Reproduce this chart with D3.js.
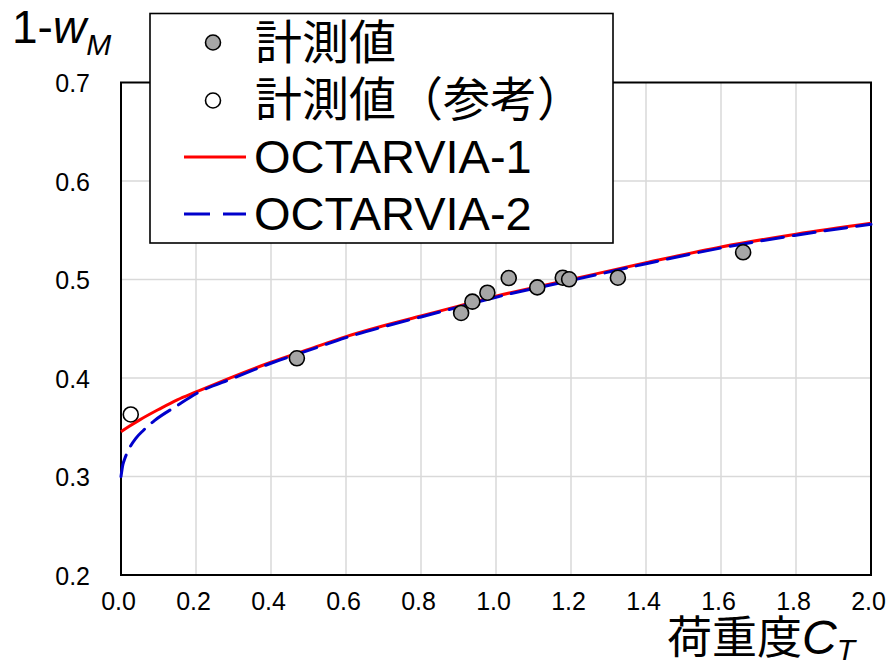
<!DOCTYPE html>
<html><head><meta charset="utf-8">
<script src="https://cdn.jsdelivr.net/npm/d3@7"></script>
<style>body{margin:0;background:#fff}svg{display:block}</style>
</head><body>
<svg id="c" width="888" height="663"></svg>
<script>
const xTicks = [0.0,0.2,0.4,0.6,0.8,1.0,1.2,1.4,1.6,1.8,2.0];
const yTicks = [0.2,0.3,0.4,0.5,0.6,0.7];
const measuredCT = [0.469,0.907,0.937,0.977,1.034,1.110,1.178,1.195,1.325,1.659];
const measuredW  = [0.420,0.466,0.4775,0.4866,0.5015,0.492,0.5018,0.5002,0.5018,0.5276];
const refCT = [0.026];
const refW  = [0.363];
const oct1CT = [0,0.02,0.05,0.1,0.15,0.2,0.3,0.4,0.5,0.6,0.7,0.8,0.9,1.0,1.2,1.4,1.6,1.8,2.0];
const oct1W  = [0.3455,0.3505,0.3575,0.368,0.3778,0.3858,0.4015,0.416,0.429,0.442,0.453,0.463,0.473,0.483,0.500,0.517,0.533,0.546,0.557];
const oct2CT = [0,0.005,0.01,0.02,0.04,0.06,0.09,0.15,0.2,0.3,0.4,0.5,0.6,0.7,0.8,0.9,1.0,1.2,1.4,1.6,1.8,2.0];
const oct2W  = [0.300,0.312,0.318,0.327,0.339,0.347,0.357,0.372,0.384,0.400,0.415,0.428,0.441,0.452,0.462,0.472,0.482,0.499,0.516,0.532,0.545,0.556];
const legendLabels = ["計測値","計測値（参考）","OCTARVIA-1","OCTARVIA-2"];

const svg = d3.select("#c");
const L=121,R=871,T=82.5,B=575;
const x = d3.scaleLinear().domain([0,2]).range([L,R]);
const y = d3.scaleLinear().domain([0.2,0.7]).range([B,T]);
const font = "'Liberation Sans', Arial, 'Noto Sans CJK JP', sans-serif";
const cjk = "'Noto Sans CJK JP', 'Liberation Sans', sans-serif";

// grid
svg.append("g").selectAll("line").data(xTicks.slice(1,-1)).join("line")
  .attr("x1",d=>x(d)).attr("x2",d=>x(d)).attr("y1",T).attr("y2",B)
  .attr("stroke","#d9d9d9").attr("stroke-width",1.5);
svg.append("g").selectAll("line").data(yTicks.slice(1,-1)).join("line")
  .attr("y1",d=>y(d)).attr("y2",d=>y(d)).attr("x1",L).attr("x2",R)
  .attr("stroke","#d9d9d9").attr("stroke-width",1.5);

// axes via d3 axis (labels only)
const xa = svg.append("g").attr("transform",`translate(-3,${B})`)
  .call(d3.axisBottom(x).tickValues(xTicks).tickFormat(d3.format(".1f")).tickSize(0).tickPadding(17));
xa.select(".domain").remove();
xa.selectAll("text").attr("font-size",25).attr("font-family",font).attr("fill","#000");
const ya = svg.append("g").attr("transform",`translate(${L},1)`)
  .call(d3.axisLeft(y).tickValues(yTicks).tickFormat(d3.format(".1f")).tickSize(0).tickPadding(31));
ya.select(".domain").remove();
ya.selectAll("text").attr("font-size",25).attr("font-family",font).attr("fill","#000");

// frame
svg.append("rect").attr("x",L).attr("y",T).attr("width",R-L).attr("height",B-T)
  .attr("fill","none").attr("stroke","#000").attr("stroke-width",2);

// curves
const line = d3.line().x(d=>x(d[0])).y(d=>y(d[1])).curve(d3.curveMonotoneX);
svg.append("path").datum(oct1CT.map((c,i)=>[c,oct1W[i]])).attr("d",line)
  .attr("fill","none").attr("stroke","#ff0000").attr("stroke-width",3);
svg.append("path").datum(oct2CT.map((c,i)=>[c,oct2W[i]])).attr("d",line)
  .attr("fill","none").attr("stroke","#0000cc").attr("stroke-width",3)
  .attr("stroke-dasharray","22,10").attr("stroke-linecap","round");

// points
svg.append("g").selectAll("circle").data(measuredCT.map((c,i)=>[c,measuredW[i]])).join("circle")
  .attr("cx",d=>x(d[0])).attr("cy",d=>y(d[1])).attr("r",7.5)
  .attr("fill","#a6a6a6").attr("stroke","#000").attr("stroke-width",1.6);
svg.append("g").selectAll("circle").data(refCT.map((c,i)=>[c,refW[i]])).join("circle")
  .attr("cx",d=>x(d[0])).attr("cy",d=>y(d[1])).attr("r",7.5)
  .attr("fill","#fff").attr("stroke","#000").attr("stroke-width",1.6);

// legend
const lg = svg.append("g");
lg.append("rect").attr("x",150).attr("y",13.5).attr("width",463).attr("height",229.5)
  .attr("fill","#fff").attr("stroke","#000").attr("stroke-width",1.6);
const rowY = [59,116,173,230];
lg.append("circle").attr("cx",213).attr("cy",42.5).attr("r",7.5).attr("fill","#a6a6a6").attr("stroke","#000").attr("stroke-width",1.6);
lg.append("circle").attr("cx",213).attr("cy",100.5).attr("r",7.5).attr("fill","#fff").attr("stroke","#000").attr("stroke-width",1.6);
lg.append("line").attr("x1",184).attr("x2",246).attr("y1",157).attr("y2",157).attr("stroke","#ff0000").attr("stroke-width",3);
lg.append("line").attr("x1",184).attr("x2",246).attr("y1",214).attr("y2",214).attr("stroke","#0000cc").attr("stroke-width",3).attr("stroke-dasharray","26,13");
lg.selectAll("text").data(legendLabels).join("text")
  .attr("x",(d,i)=>i<2?255:254).attr("y",(d,i)=>rowY[i])
  .attr("font-family",(d,i)=>i<2?cjk:font).attr("font-size",47).attr("fill","#000")
  .text(d=>d);

// y axis title
const yt = svg.append("text").attr("x",12).attr("y",43).attr("font-family",font).attr("font-size",46).attr("fill","#000");
yt.append("tspan").text("1-");
yt.append("tspan").attr("font-style","italic").text("w");
yt.append("tspan").attr("font-style","italic").attr("font-size",30).attr("dy",12).text("M");

// x axis title
const xt = svg.append("text").attr("x",667).attr("y",654).attr("font-family",cjk).attr("font-size",45).attr("fill","#000");
xt.append("tspan").text("荷重度");
xt.append("tspan").attr("font-family",font).attr("font-style","italic").attr("font-size",48).text("C");
xt.append("tspan").attr("font-family",font).attr("font-style","italic").attr("font-size",30).attr("dy",6).text("T");
</script>
</body></html>
